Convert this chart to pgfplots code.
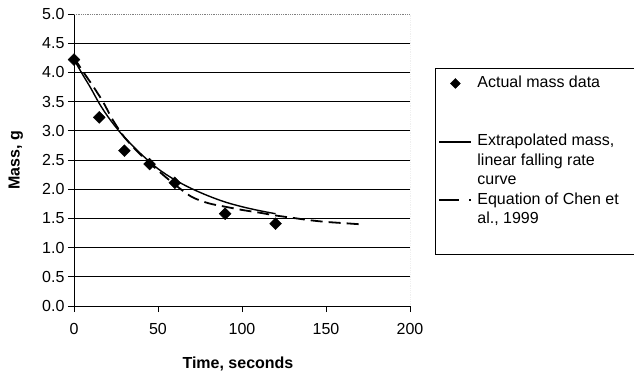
\documentclass[border=0pt]{standalone}
\usepackage{fontspec}
\setmainfont{Liberation Sans}
\usepackage{pgfplots}
\pgfplotsset{compat=1.18}
\begin{document}
\begin{tikzpicture}[font=\fontsize{16}{18.5}\selectfont]
\begin{axis}[
  name=ax,
  scale only axis,
  width=336pt, height=292pt,
  xmin=0, xmax=200, ymin=0, ymax=5,
  xtick={0,50,100,150,200},
  ytick={0,0.5,1,1.5,2,2.5,3,3.5,4,4.5},
  extra y ticks={5},
  extra y tick style={grid=none},
  ymajorgrids,
  major grid style={black, line width=0.7pt},
  axis x line*=bottom, axis y line*=left,
  axis line style={-, black, line width=0.9pt},
  tick align=outside,
  major tick length=6pt,
  tick style={black, line width=0.8pt},
  /pgf/number format/assume math mode=true,
  yticklabel style={/pgf/number format/.cd, fixed, fixed zerofill, precision=1},
  xticklabel style={yshift=-8pt},
  xlabel={\bfseries Time, seconds},
  ylabel={\bfseries Mass, g},
  xlabel style={at={(axis description cs:0.488,-0.199)}, anchor=center},
  ylabel style={at={(axis description cs:-0.173,0.5)}, anchor=center},
  legend image code/.code={\draw[mark repeat=2, mark phase=2, #1] plot coordinates {(0pt,0pt) (16pt,0pt) (32pt,0pt)};},
  legend cell align=left,
  legend style={at={(axis description cs:1.0744,0.815)}, anchor=north west,
    draw=black, line width=0.8pt, inner xsep=3pt, inner ysep=6pt,
    nodes={inner xsep=5pt, inner ysep=1pt, text height=12pt, text depth=4pt},
    row sep=1.5pt, column sep=0pt},
]
\draw[gray, densely dotted, line width=0.8pt] (rel axis cs:0,1) -- (rel axis cs:1,1) -- (rel axis cs:1,0);

% Extrapolated mass, linear falling rate curve
\addplot[forget plot, black, line width=1.4pt, smooth] coordinates {
 (0,4.22) (5,3.97) (10,3.73) (15,3.47) (20,3.25) (25,3.06) (30,2.89)
 (40,2.60) (50,2.35) (60,2.16) (70,2.01) (80,1.885) (90,1.78)
 (100,1.70) (110,1.635) (120,1.58)};

% Equation of Chen et al., 1999
\addplot[forget plot, black, line width=1.8pt, dash pattern=on 12pt off 6pt, smooth] coordinates {
 (0,4.25) (5,4.03) (10,3.82) (17,3.51) (23,3.19) (30,2.89) (40,2.58) (50,2.32)
 (60,2.08) (70,1.87) (80,1.76) (90,1.70) (100,1.645) (110,1.60)
 (120,1.55) (130,1.51) (140,1.47) (150,1.44) (160,1.42) (170,1.40)};

% Actual mass data
\addplot[forget plot, only marks, mark=square*, mark options={rotate=45, fill=black, draw=black}, mark size=4.2pt] coordinates {
 (0,4.22) (15,3.23) (30,2.66) (45,2.43) (60,2.11) (90,1.58) (120,1.41)};

\addlegendimage{only marks, mark=square*, mark options={rotate=45, fill=black, draw=black, line width=0.4pt}, mark size=3.5pt}
\addlegendentry{\makebox[155pt][l]{Actual mass data}}
\addlegendimage{empty legend}
\addlegendentry{}
\addlegendimage{empty legend}
\addlegendentry{}
\addlegendimage{black, line width=1.6pt}
\addlegendentry{Extrapolated mass,}
\addlegendimage{empty legend}
\addlegendentry{linear falling rate}
\addlegendimage{empty legend}
\addlegendentry{curve}
\addlegendimage{black, line width=2pt, dash pattern=on 20pt off 10pt on 4pt off 10pt}
\addlegendentry{Equation of Chen et}
\addlegendimage{empty legend}
\addlegendentry{al., 1999}
\addlegendimage{empty legend}
\addlegendentry{}
\end{axis}
\pgfresetboundingbox
\path (ax.south west) ++(-74pt,-69pt) rectangle ++(634pt,375pt);
\end{tikzpicture}
\end{document}
